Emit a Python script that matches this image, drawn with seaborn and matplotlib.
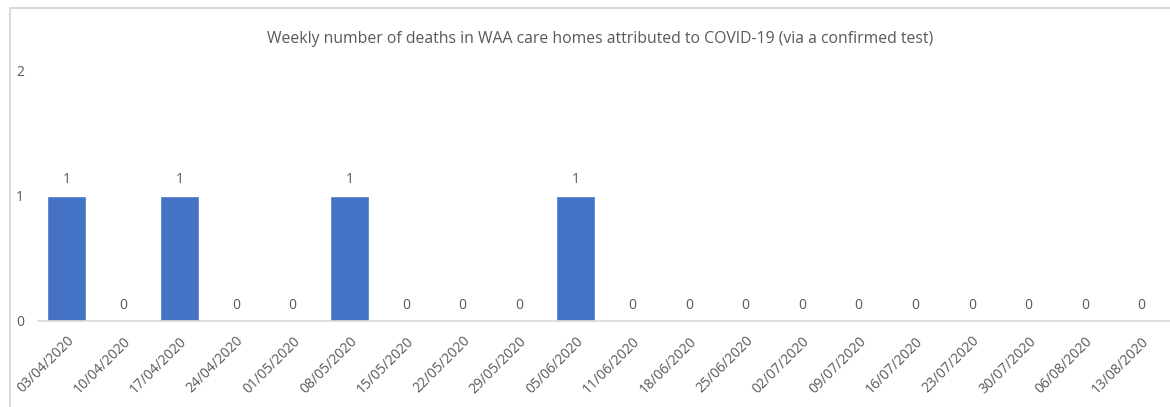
import matplotlib
matplotlib.use("Agg")
import matplotlib.pyplot as plt
from matplotlib.lines import Line2D
import seaborn as sns
import pandas as pd

weeks = ["03/04/2020", "10/04/2020", "17/04/2020", "24/04/2020", "01/05/2020",
         "08/05/2020", "15/05/2020", "22/05/2020", "29/05/2020", "05/06/2020",
         "11/06/2020", "18/06/2020", "25/06/2020", "02/07/2020", "09/07/2020",
         "16/07/2020", "23/07/2020", "30/07/2020", "06/08/2020", "13/08/2020"]
deaths = [1, 0, 1, 0, 0, 1, 0, 0, 0, 1, 0, 0, 0, 0, 0, 0, 0, 0, 0, 0]
title = "Weekly number of deaths in WAA care homes attributed to COVID-19 (via a confirmed test)"

sns.set_theme(style="white")
plt.rcParams["font.family"] = ["Open Sans", "DejaVu Sans"]

text_gray = "#595959"
line_gray = "#d9d9d9"
bar_blue = "#4472c4"

df = pd.DataFrame({"week": weeks, "deaths": deaths})

fig = plt.figure(figsize=(11.70, 4.07), dpi=100)
ax = fig.add_axes([38 / 1170, 86 / 407, 1132 / 1170, 251 / 407])

sns.barplot(data=df, x="week", y="deaths", color=bar_blue, width=0.69,
            saturation=1, ax=ax)

ax.set_ylim(0, 2)
ax.set_xlim(-0.5, len(weeks) - 0.5)
ax.set_yticks([0, 1, 2])
ax.set_yticklabels(["0", "1", "2"])
ax.set_xlabel("")
ax.set_ylabel("")

for s in ["top", "right", "left"]:
    ax.spines[s].set_visible(False)
ax.spines["bottom"].set_color(line_gray)
ax.spines["bottom"].set_linewidth(1.2)

ax.tick_params(axis="y", length=0, pad=10, labelsize=10, labelcolor=text_gray)
ax.tick_params(axis="x", which="major", length=0, pad=9, labelsize=10,
               labelcolor=text_gray)
ax.set_xticks([i - 0.5 for i in range(len(weeks) + 1)], minor=True)
ax.tick_params(axis="x", which="minor", length=5, width=1.2, color=line_gray,
               direction="out")
plt.setp(ax.get_xticklabels(), rotation=45, ha="right", va="top",
         rotation_mode="anchor")

for container in ax.containers:
    ax.bar_label(container, labels=[str(v) for v in deaths], padding=6,
                 fontsize=10, color=text_gray)

fig.text(0.513, 0.905, title, ha="center", va="center", fontsize=11.3,
         color=text_gray)

# chart frame
fig.add_artist(Line2D([10 / 1170, 1], [1 - 8 / 407, 1 - 8 / 407],
                      transform=fig.transFigure, color=line_gray, lw=1.5))
fig.add_artist(Line2D([10 / 1170, 10 / 1170], [0, 1 - 8 / 407],
                      transform=fig.transFigure, color=line_gray, lw=1.5))

fig.savefig("out.png", dpi=100, facecolor="white")
